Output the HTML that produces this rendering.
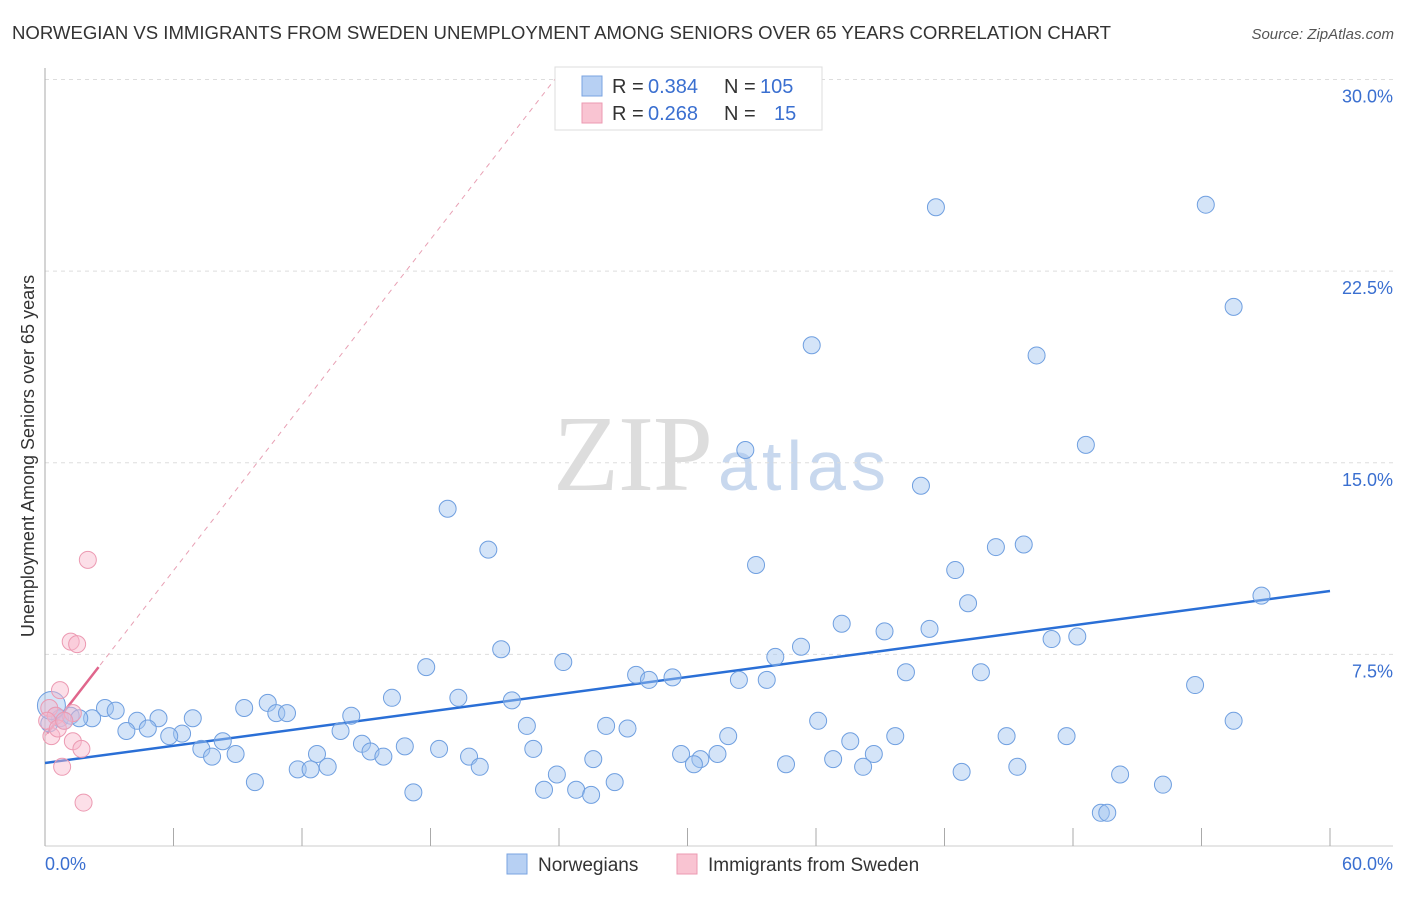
<!DOCTYPE html>
<html><head><meta charset="utf-8"><style>
body{margin:0;background:#fff;font-family:"Liberation Sans",sans-serif}
</style></head><body>
<svg width="1406" height="892" xmlns="http://www.w3.org/2000/svg" style="font-family:'Liberation Sans',sans-serif">
<text x="12" y="39" font-size="18.6" fill="#333" textLength="1099">NORWEGIAN VS IMMIGRANTS FROM SWEDEN UNEMPLOYMENT AMONG SENIORS OVER 65 YEARS CORRELATION CHART</text>
<text x="1394" y="39" font-size="15" fill="#555" font-style="italic" text-anchor="end">Source: ZipAtlas.com</text>
<text x="553" y="490" font-size="108" fill="#ddd" font-family="Liberation Serif" textLength="160">ZIP</text>
<text x="718" y="490" font-size="70" fill="#c8d8ee" textLength="168">atlas</text>
<g id="grid"></g><g id="axes"></g><g id="lines"></g><g id="pts"></g>
<text transform="translate(34,456) rotate(-90)" font-size="18" fill="#333" text-anchor="middle">Unemployment Among Seniors over 65 years</text>
<text x="45" y="870" font-size="18" fill="#3a6fd0">0.0%</text>
<text x="1393" y="870" font-size="18" fill="#3a6fd0" text-anchor="end">60.0%</text>
<g>
<rect x="555" y="67" width="267" height="63" fill="#fff" stroke="#ddd"/>
<rect x="582" y="76" width="20" height="20" fill="#b7d0f3" stroke="#7aa3e0"/>
<rect x="582" y="103" width="20" height="20" fill="#f9c4d2" stroke="#ec9ab2"/>
<text x="612" y="93" font-size="20" fill="#333">R =</text>
<text x="648" y="93" font-size="20" fill="#3a6fd0">0.384</text>
<text x="724" y="93" font-size="20" fill="#333">N =</text>
<text x="760" y="93" font-size="20" fill="#3a6fd0">105</text>
<text x="612" y="120" font-size="20" fill="#333">R =</text>
<text x="648" y="120" font-size="20" fill="#3a6fd0">0.268</text>
<text x="724" y="120" font-size="20" fill="#333">N =</text>
<text x="774" y="120" font-size="20" fill="#3a6fd0">15</text>
</g>
<g>
<rect x="507" y="854" width="20" height="20" fill="#b7d0f3" stroke="#7aa3e0"/>
<text x="538" y="871" font-size="19" fill="#333">Norwegians</text>
<rect x="677" y="854" width="20" height="20" fill="#f9c4d2" stroke="#ec9ab2"/>
<text x="708" y="871" font-size="19" fill="#333">Immigrants from Sweden</text>
</g>
</svg>
<script>
const blueX=[41.6,54.2,55.5,35.8,46.3,48.6,32.7,40.9,18.8,20.7,44.4,45.7,33.2,42.5,56.8,43.1,37.2,41.3,39.2,48.2,47.0,21.3,35.3,34.1,24.2,17.8,40.2,43.7,27.6,29.3,28.2,32.4,33.7,53.7,16.2,19.3,21.8,10.4,9.3,2.8,3.3,10.8,11.3,14.3,6.9,5.3,2.2,4.3,36.1,55.5,4.8,22.5,26.2,27.2,3.8,6.4,13.8,5.8,31.9,39.7,44.9,47.7,8.3,14.8,37.6,7.3,16.8,18.4,22.8,15.2,12.7,7.8,8.9,15.8,19.8,29.7,31.4,30.6,38.7,25.6,36.8,30.3,34.6,13.2,38.2,45.4,11.8,12.4,20.3,42.8,23.9,50.2,9.8,26.6,52.2,23.3,24.8,17.2,25.5,49.3,49.6,0.5,0.7,1.2,0.9,1.6,0.2];
const blueY=[25.0,25.1,21.1,19.6,19.2,15.7,15.5,14.1,13.2,11.6,11.7,11.8,11.0,10.8,9.8,9.5,8.7,8.5,8.4,8.2,8.1,7.7,7.8,7.4,7.2,7.0,6.8,6.8,6.7,6.6,6.5,6.5,6.5,6.3,5.8,5.8,5.7,5.6,5.4,5.4,5.3,5.2,5.2,5.1,5.0,5.0,5.0,4.9,4.9,4.9,4.6,4.7,4.7,4.6,4.5,4.4,4.5,4.3,4.3,4.3,4.3,4.3,4.1,4.0,4.1,3.8,3.9,3.8,3.8,3.7,3.6,3.5,3.6,3.5,3.5,3.6,3.6,3.4,3.6,3.4,3.4,3.2,3.2,3.1,3.1,3.1,3.0,3.0,3.1,2.9,2.8,2.8,2.5,2.5,2.4,2.2,2.2,2.1,2.0,1.3,1.3,5.1,5.0,5.1,4.9,5.0,4.8];
const pinkX=[2.0,1.2,1.5,0.7,0.2,0.5,1.3,0.3,1.3,1.7,0.8,1.8,0.1,0.6,0.9];
const pinkY=[11.2,8.0,7.9,6.1,5.4,5.1,5.2,4.3,4.1,3.8,3.1,1.7,4.9,4.6,4.9];
const yTicks=[7.5,15,22.5,30];
const yTickLabels=["7.5%","15.0%","22.5%","30.0%"];
const xTicks=[0,6,12,18,24,30,36,42,48,54,60];
const blueFit=[3.25,9.98];
const pinkFit=[4.3,1.08];
const NS='http://www.w3.org/2000/svg';
const sx=v=>45+v*1285/60, sy=v=>846-v*25.55;
function mk(t,a,p){const e=document.createElementNS(NS,t);for(const k in a)e.setAttribute(k,a[k]);document.getElementById(p).appendChild(e);return e;}
yTicks.forEach((t,i)=>{
 const l=mk('line',{x1:45,x2:1393,y1:sy(t),y2:sy(t),stroke:'#ddd','stroke-dasharray':'4,4'},'grid');
 
 
 const tx=mk('text',{x:1393,y:sy(t)+23,'font-size':18,fill:'#3a6fd0','text-anchor':'end'},'grid');
 tx.textContent=yTickLabels[i];
 
 
});
let a=mk('line',{x1:45,x2:45,y1:68,y2:846,stroke:'#aaa'},'axes');


a=mk('line',{x1:45,x2:1393,y1:846,y2:846,stroke:'#ccc'},'axes');


xTicks.forEach(t=>{
 const l=mk('line',{x1:sx(t),x2:sx(t),y1:828,y2:846,stroke:'#aaa'},'axes');
 
 
});
let ln=mk('line',{x1:sx(0),y1:sy(blueFit[0]),x2:sx(60),y2:sy(blueFit[1]),stroke:'#2a6fd6','stroke-width':2.5},'lines');


const pxEnd=24;
ln=mk('line',{x1:sx(0),y1:sy(pinkFit[0]),x2:sx(pxEnd),y2:sy(pinkFit[0]+pinkFit[1]*pxEnd),stroke:'#e8a0b4','stroke-width':1,'stroke-dasharray':'5,5'},'lines');


ln=mk('line',{x1:sx(0.1),y1:sy(pinkFit[0]+pinkFit[1]*0.1),x2:sx(2.5),y2:sy(pinkFit[0]+pinkFit[1]*2.5),stroke:'#e0668c','stroke-width':2.5},'lines');


blueX.forEach((x,i)=>{
 const c=mk('circle',{cx:sx(x),cy:sy(blueY[i]),r:8.5,fill:'rgba(160,195,240,0.45)',stroke:'#6f9fe0','stroke-width':1},'pts');
 
 
});
const big=mk('circle',{cx:sx(0.3),cy:sy(5.5),r:14,fill:'rgba(160,195,240,0.45)',stroke:'#6f9fe0','stroke-width':1},'pts');


pinkX.forEach((x,i)=>{
 const c=mk('circle',{cx:sx(x),cy:sy(pinkY[i]),r:8.5,fill:'rgba(248,185,205,0.45)',stroke:'#ec9ab2','stroke-width':1},'pts');
 
 
});
</script>
</body></html>
